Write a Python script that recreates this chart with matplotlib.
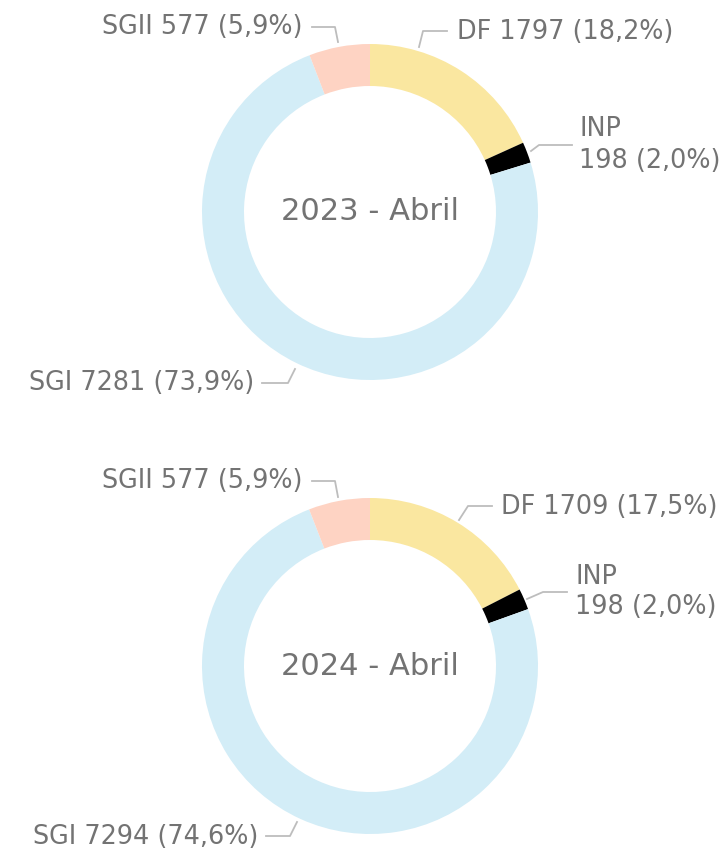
import matplotlib
matplotlib.use("Agg")
import matplotlib.pyplot as plt

# data
categories = ["DF", "INP", "SGI", "SGII"]
values_2023 = [1797, 198, 7281, 577]
values_2024 = [1709, 198, 7294, 577]
pct_2023 = ["18,2%", "2,0%", "73,9%", "5,9%"]
pct_2024 = ["17,5%", "2,0%", "74,6%", "5,9%"]
titles = ["2023 - Abril", "2024 - Abril"]

colors = ["#FAE7A0", "#000000", "#D3EDF7", "#FED3C3"]
TEXT = "#737373"
LINE = "#BDBDBD"
W, H = 721, 855
FS = 18.4
FS_TITLE = 22

plt.rcParams['font.family'] = ['DejaVu Sans']


def py(y):
    # pixel row -> data y
    return H - y


fig = plt.figure(figsize=(W / 100, H / 100), dpi=100)
ax = fig.add_axes([0, 0, 1, 1])

# layout for the leader lines / labels of each chart (pixel coords)
layouts = [
    {
        "center": (370, 212),
        "DF": ([(419, 47), (423, 31), (447, 31)], (457, 32), "left"),
        "INP": ([(531, 151), (539, 145), (572, 145)], (579, 145), "left"),
        "SGI": ([(295, 369), (288, 383), (262, 383)], (254, 383), "right"),
        "SGII": ([(338, 42), (335, 27), (312, 27)], (302, 27), "right"),
    },
    {
        "center": (370, 666),
        "DF": ([(459, 520), (468, 506), (492, 506)], (501, 507), "left"),
        "INP": ([(527, 599), (543, 592), (567, 592)], (575, 592), "left"),
        "SGI": ([(297, 822), (290, 836), (266, 836)], (258, 837), "right"),
        "SGII": ([(338, 497), (335, 481), (312, 481)], (302, 481), "right"),
    },
]

for values, pcts, title, lay in zip([values_2023, values_2024], [pct_2023, pct_2024], titles, layouts):
    cx, cy = lay["center"]
    ax.pie(values, colors=colors, center=(cx, py(cy)), radius=168, startangle=90,
           counterclock=False, wedgeprops=dict(width=42, linewidth=0))
    ax.text(cx, py(cy), title, ha="center", va="center", fontsize=FS_TITLE, color=TEXT)
    for cat, v, p in zip(categories, values, pcts):
        pts, (tx, ty), ha = lay[cat]
        ax.plot([q[0] for q in pts], [py(q[1]) for q in pts], color=LINE, lw=1.3)
        if cat == "INP":
            label = f"{cat}\n{v} ({p})"
            ax.text(tx, py(ty), label, ha=ha, va="center", fontsize=FS, color=TEXT, linespacing=1.25)
        else:
            ax.text(tx, py(ty), f"{cat} {v} ({p})", ha=ha, va="center", fontsize=FS, color=TEXT)

ax.set_xlim(0, W)
ax.set_ylim(0, H)
ax.set_aspect("auto")
ax.axis("off")

fig.savefig("out.png", dpi=100)
